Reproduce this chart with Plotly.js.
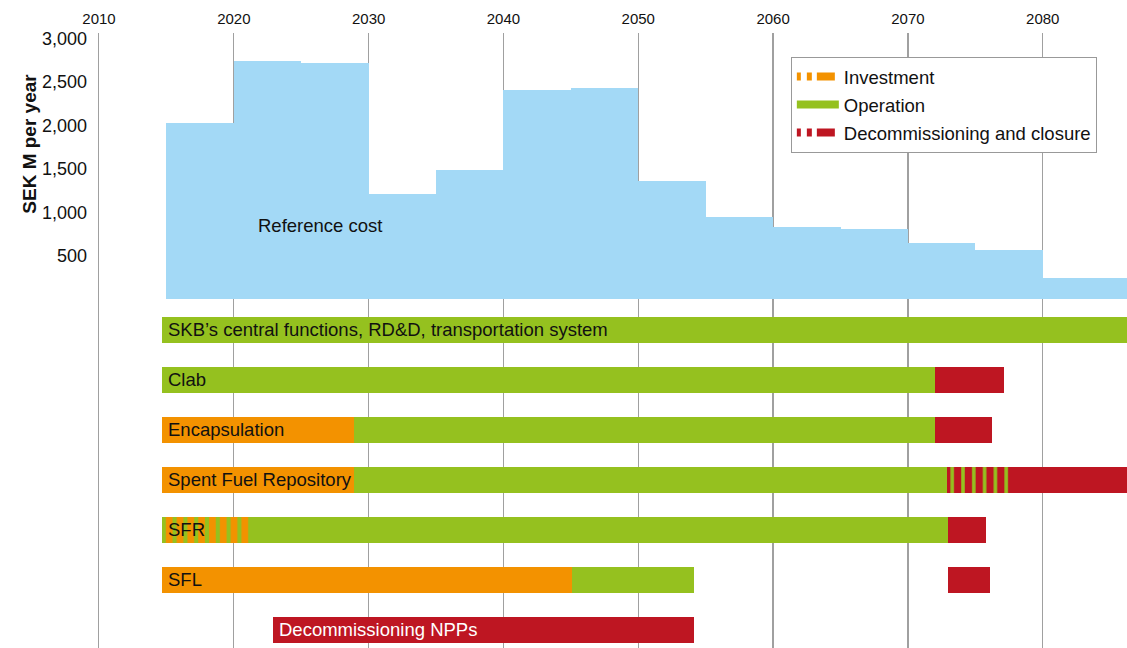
<!DOCTYPE html>
<html><head><meta charset="utf-8">
<script src="https://cdn.plot.ly/plotly-3.0.1.min.js"></script>
<style>html,body{margin:0;padding:0;background:#fff}#chart{width:1127px;height:648px}</style>
</head><body><div id="chart"></div>
<script>
// ---- Reference cost (SEK M per year), 5-year steps ----
const costStart = [2015, 2020, 2025, 2030, 2035, 2040, 2045, 2050, 2055, 2060, 2065, 2070, 2075, 2080];
const costEnd   = [2020, 2025, 2030, 2035, 2040, 2045, 2050, 2055, 2060, 2065, 2070, 2075, 2080, 2087];
const costValue = [2030, 2740, 2715, 1215, 1490, 2400, 2430, 1360, 945, 830, 805, 645, 565, 245];
const yTickValues = [500, 1000, 1500, 2000, 2500, 3000];
const xTickValues = [2010, 2020, 2030, 2040, 2050, 2060, 2070, 2080];

// ---- Facility timelines ----
const rowLabels = ["SKB\u2019s central functions, RD&D, transportation system", "Clab", "Encapsulation",
  "Spent Fuel Repository", "SFR", "SFL", "Decommissioning NPPs"];
const segRow   = [0,      1,      1,      2,      2,      2,      3,      3,      3,      3,      4,      4,      4,      5,      5,      5,      6];
const segStart = [2014.7, 2014.7, 2072.0, 2014.7, 2028.9, 2072.0, 2014.7, 2028.9, 2072.9, 2077.7, 2014.7, 2021.3, 2073.0, 2014.7, 2045.1, 2073.0, 2022.9];
const segEnd   = [2090,   2072.0, 2077.1, 2028.9, 2072.0, 2076.2, 2028.9, 2072.9, 2077.7, 2090,   2021.3, 2073.0, 2075.8, 2045.1, 2054.1, 2076.1, 2054.1];
const segPhase = ["op", "op", "dec", "inv", "op", "dec", "inv", "op", "op-dec", "dec", "inv-op", "op", "dec", "inv", "op", "dec", "dec"];
const legendNames = ["Investment", "Operation", "Decommissioning and closure"];

const C = {inv: "#f39200", op: "#95c11f", dec: "#be1622", blue: "#a3d9f6", grid: "#a0a0a0"};
const FONT = "Liberation Sans, Arial, Helvetica, sans-serif";

const traces = [];
traces.push({
  type: "bar", xaxis: "x", yaxis: "y",
  x: costStart.map((s, i) => (s + costEnd[i]) / 2),
  width: costStart.map((s, i) => costEnd[i] - s),
  y: costValue,
  marker: {color: C.blue, line: {width: 0}},
  showlegend: false, hoverinfo: "skip"
});

const phaseStyle = {
  "inv": {color: C.inv},
  "op": {color: C.op},
  "dec": {color: C.dec},
  "inv-op": {color: C.op, pattern: {shape: "|", bgcolor: C.op, fgcolor: C.inv, size: 10.8, solidity: 0.62, fillmode: "replace"}},
  "op-dec": {color: C.op, pattern: {shape: "|", bgcolor: C.op, fgcolor: C.dec, size: 10.8, solidity: 0.67, fillmode: "replace"}}
};
Object.keys(phaseStyle).forEach(ph => {
  const idx = segPhase.map((p, i) => p === ph ? i : -1).filter(i => i >= 0);
  traces.push({
    type: "bar", orientation: "h", xaxis: "x", yaxis: "y2",
    base: idx.map(i => segStart[i]),
    x: idx.map(i => segEnd[i] - segStart[i]),
    y: idx.map(i => segRow[i]),
    width: 0.535,
    marker: Object.assign({line: {width: 0}}, phaseStyle[ph]),
    showlegend: false, hoverinfo: "skip"
  });
});

// legend entries
const legendStyle = [
  {color: C.inv, dash: "4px,6px,5px,5px,18px,30px"},
  {color: C.op, dash: "solid"},
  {color: C.dec, dash: "4px,6px,5px,5px,18px,30px"}
];
legendNames.forEach((n, i) => {
  traces.push({type: "scatter", mode: "lines", x: [null], y: [null], xaxis: "x", yaxis: "y",
    name: n, legendgroup: "g" + i, line: {color: legendStyle[i].color, width: 8, dash: legendStyle[i].dash}});
});

const annotations = rowLabels.map((t, r) => {
  const starts = segStart.filter((s, i) => segRow[i] === r);
  const firstPhase = segPhase[segRow.indexOf(r)];
  return {
    text: t, x: Math.min(...starts), y: r, xref: "x", yref: "y2",
    xanchor: "left", yanchor: "middle", xshift: 4, showarrow: false,
    font: {family: FONT, size: 18.5, color: firstPhase === "dec" ? "#ffffff" : "#111111"}
  };
});
annotations.push({text: "Reference cost", x: 2026.4, y: 845, xref: "x", yref: "y",
  showarrow: false, font: {family: FONT, size: 18.5, color: "#111111"}});
annotations.push({text: "<b>SEK M per year</b>", textangle: -90, xref: "paper", yref: "paper",
  x: 0, xanchor: "center", yanchor: "middle", xshift: -69, y: 0.82, showarrow: false,
  font: {family: FONT, size: 19, color: "#111111"}});

const layout = {
  width: 1127, height: 648,
  margin: {l: 99, r: 0, t: 33, b: 0, pad: 0},
  paper_bgcolor: "#ffffff", plot_bgcolor: "#ffffff",
  font: {family: FONT, color: "#111111"},
  barmode: "overlay", bargap: 0,
  separators: ".,",
  xaxis: {
    range: [2010, 2086.25], side: "top", anchor: "y",
    tickvals: xTickValues, showgrid: true, gridcolor: C.grid, gridwidth: 1.3,
    zeroline: false, showline: false, ticks: "", ticklabelstandoff: 5,
    tickfont: {size: 15, family: FONT, color: "#111111"}
  },
  yaxis: {
    domain: [0.5667, 1], range: [0, 3060], anchor: "x",
    tickvals: yTickValues, tickformat: ",", showgrid: false, zeroline: false,
    showline: true, linecolor: C.grid, linewidth: 1.3, ticks: "", ticklabelstandoff: 7,
    tickfont: {size: 18, family: FONT, color: "#111111"}
  },
  yaxis2: {
    domain: [0, 0.5667], range: [6.36, -0.61], anchor: "x",
    showticklabels: false, showgrid: false, zeroline: false,
    showline: true, linecolor: C.grid, linewidth: 1.3, ticks: ""
  },
  legend: {
    x: 0.673, y: 0.961, xanchor: "left", yanchor: "top",
    bgcolor: "#ffffff", bordercolor: "#999999", borderwidth: 1,
    font: {family: FONT, size: 18.5, color: "#111111"},
    traceorder: "grouped", tracegroupgap: 1, itemwidth: 42
  },
  annotations: annotations
};

Plotly.newPlot("chart", traces, layout, {staticPlot: true, displayModeBar: false});
</script>
</body></html>
